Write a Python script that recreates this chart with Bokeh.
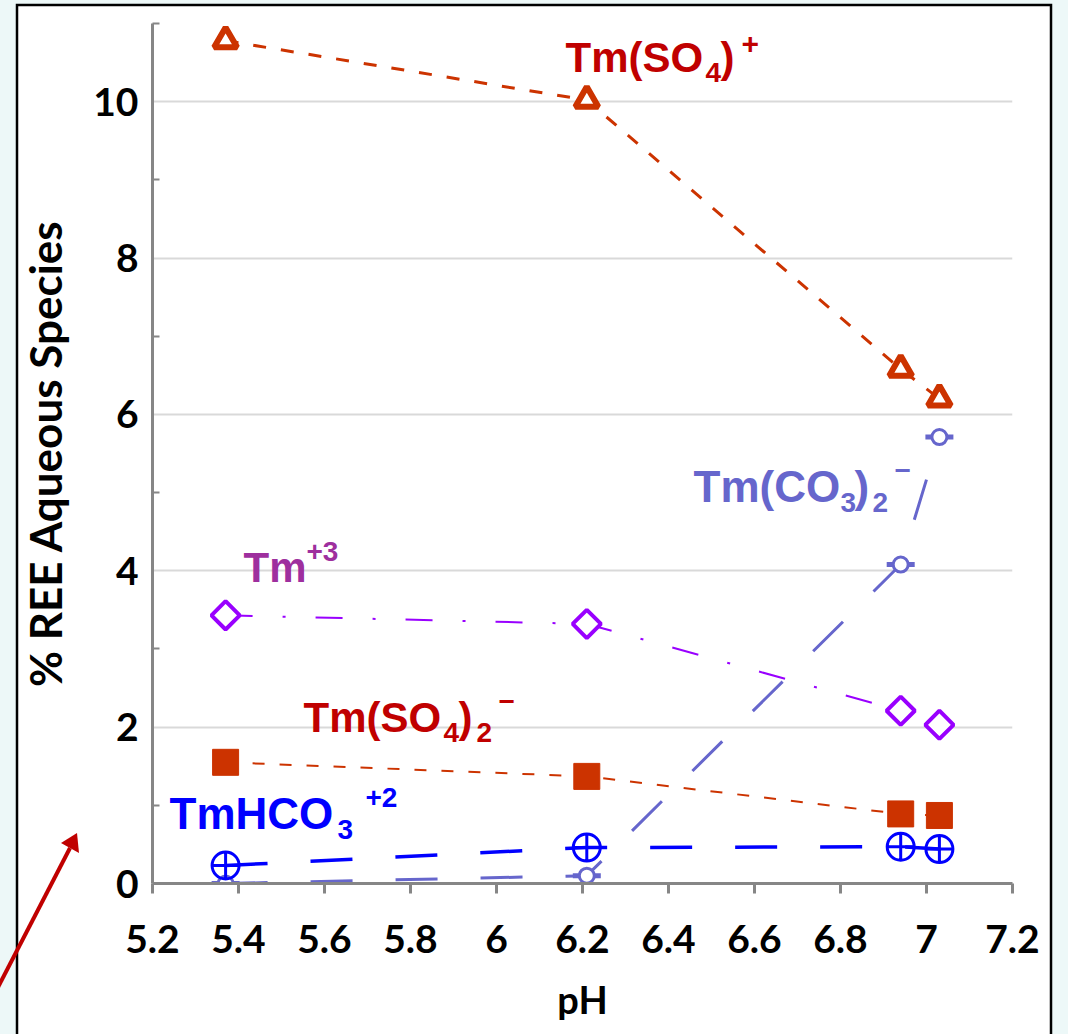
from urllib.parse import quote

from bokeh.plotting import figure
from bokeh.models import Range1d, FixedTicker, Label
from bokeh.embed import file_html
from bokeh.resources import INLINE

# ---------------- data ----------------
ph = [5.37, 6.21, 6.94, 7.03]
tm_so4 = [10.78, 10.02, 6.58, 6.20]        # Tm(SO4)+
tm3 = [3.43, 3.32, 2.21, 2.03]             # Tm+3
tm_so4_2 = [1.55, 1.37, 0.89, 0.87]        # Tm(SO4)2-
tm_hco3 = [0.23, 0.46, 0.47, 0.44]         # TmHCO3+2
tm_co3_2 = [0.0, 0.10, 4.08, 5.71]         # Tm(CO3)2-

x_ticks = [5.2, 5.4, 5.6, 5.8, 6.0, 6.2, 6.4, 6.6, 6.8, 7.0, 7.2]
x_tick_labels = ["5.2", "5.4", "5.6", "5.8", "6", "6.2", "6.4", "6.6",
                 "6.8", "7", "7.2"]
y_ticks = [0, 2, 4, 6, 8, 10]
y_minor = [1, 3, 5, 7, 9, 11]

# ---------------- colours ----------------
C_SO4 = "#cc3300"
C_RED_TXT = "#c00000"
C_TM3 = "#9900ff"
C_TM3_TXT = "#9e2f9e"
C_HCO3 = "#0000ff"
C_CO3 = "#6666cc"
AXIS = "#868686"
BG = "#edf8f8"

W, H = 1068, 1034
p = figure(width=W, height=H,
           x_range=Range1d(5.2, 7.2), y_range=Range1d(0, 11),
           output_backend="svg", toolbar_location=None,
           min_border_left=152, min_border_right=56,
           min_border_top=23, min_border_bottom=151,
           background_fill_color="white", border_fill_color=None,
           outline_line_color=None)

# axes
xa = p.xaxis[0]
xa.ticker = FixedTicker(ticks=x_ticks)
xa.major_label_overrides = {t: l for t, l in zip(x_ticks, x_tick_labels)}
xa.axis_line_color = AXIS
xa.axis_line_width = 3
xa.major_tick_line_color = AXIS
xa.major_tick_line_width = 3
xa.major_tick_out = 10
xa.major_tick_in = 0
xa.minor_tick_line_color = None
xa.major_label_text_font = "Lato"
xa.major_label_text_font_style = "bold"
xa.major_label_text_font_size = "39px"
xa.major_label_text_color = "black"
xa.major_label_standoff = 31
xa.axis_label = "pH"
xa.axis_label_text_font = "Lato"
xa.axis_label_text_font_style = "bold"
xa.axis_label_text_font_size = "38px"
xa.axis_label_text_color = "black"
xa.axis_label_standoff = 20

ya = p.yaxis[0]
ya.ticker = FixedTicker(ticks=y_ticks, minor_ticks=y_minor)
ya.axis_line_color = AXIS
ya.axis_line_width = 3
ya.major_tick_line_color = None
ya.major_tick_in = 0
ya.major_tick_out = 0
ya.minor_tick_line_color = AXIS
ya.minor_tick_line_width = 2
ya.minor_tick_in = 7
ya.minor_tick_out = 0
ya.major_label_text_font = "Lato"
ya.major_label_text_font_style = "bold"
ya.major_label_text_font_size = "39px"
ya.major_label_text_color = "black"
ya.major_label_standoff = 14
ya.axis_label = "% REE Aqueous Species"
ya.axis_label_text_font = "Lato"
ya.axis_label_text_font_style = "bold"
ya.axis_label_text_font_size = "44px"
ya.axis_label_text_color = "black"
ya.axis_label_standoff = 19

p.xgrid.grid_line_color = None
p.ygrid.grid_line_color = "#d9d9d9"
p.ygrid.grid_line_width = 2

# ---------------- series ----------------
# Tm(CO3)2-
p.line(ph, tm_co3_2, line_color=C_CO3, line_width=3, line_dash="42 43")
p.scatter(ph, tm_co3_2, marker="dash", size=28, line_color=C_CO3, line_width=5)
p.scatter(ph, tm_co3_2, marker="circle", size=15, line_color=C_CO3,
          line_width=3, fill_color="white")

# TmHCO3+2
p.line(ph, tm_hco3, line_color=C_HCO3, line_width=3.5, line_dash="42 43")
p.scatter(ph, tm_hco3, marker="circle_cross", size=27, line_color=C_HCO3,
          line_width=3, fill_color="white", fill_alpha=0.0)

# Tm(SO4)2-
p.line(ph, tm_so4_2, line_color=C_SO4, line_width=2, line_dash="12 15")
p.scatter(ph, tm_so4_2, marker="square", size=26, fill_color=C_SO4,
          line_color=C_SO4, line_width=1)

# Tm+3
p.line(ph, tm3, line_color=C_TM3, line_width=2, line_dash="27 30 3 30")
p.scatter(ph, tm3, marker="square", angle=0.785398, size=20,
          line_color=C_TM3, line_width=4, fill_color="white")

# Tm(SO4)+
p.line(ph, tm_so4, line_color=C_SO4, line_width=3, line_dash="13 15")
p.scatter(ph, tm_so4, marker="triangle", size=23, line_color=C_SO4,
          line_width=6, fill_color="white")


# ---------------- labels (page pixel positions -> data coords) ----------
def px_x(px):
    return 5.2 + (px - 152) / 430.0


def px_y(py):
    return (883 - py) / (860.0 / 11.0)


FONT = "Liberation Sans"
SHIFT = 0.39   # rendered baseline sits this many em lower than requested
pieces = [
    # Tm(SO4)+
    ("Tm(SO", 565, 73, 42, C_RED_TXT),
    ("4", 705, 83, 28, C_RED_TXT),
    (")", 720, 73, 42, C_RED_TXT),
    ("+", 741, 55, 30, C_RED_TXT),
    # Tm+3
    ("Tm", 243, 583, 42, C_TM3_TXT),
    ("+3", 306, 562, 28, C_TM3_TXT),
    # Tm(SO4)2-
    ("Tm(SO", 303, 733, 42, C_RED_TXT),
    ("4", 443, 743, 28, C_RED_TXT),
    (")", 458, 733, 42, C_RED_TXT),
    ("2", 476, 743, 28, C_RED_TXT),
    ("\u2212", 498, 712, 28, C_RED_TXT),
    # TmHCO3+2
    ("TmHCO", 169, 830, 44, C_HCO3),
    ("3", 337, 840, 28, C_HCO3),
    ("+2", 365, 808, 28, C_HCO3),
    # Tm(CO3)2-
    ("Tm(CO", 693, 503, 44, C_CO3),
    ("3", 840, 513, 28, C_CO3),
    (")", 854, 503, 44, C_CO3),
    ("2", 872, 513, 28, C_CO3),
    ("\u2212", 894, 481, 28, C_CO3),
]
for txt, x, y, sz, col in pieces:
    p.add_layout(Label(x=px_x(x), y=px_y(y - SHIFT * sz), text=txt,
                       text_font=FONT, text_font_style="bold",
                       text_font_size=f"{sz}px", text_color=col,
                       text_align="left", text_baseline="alphabetic"))

# page backdrop: light slide background, white chart box and red pointer
backdrop = (
    f"<svg xmlns='http://www.w3.org/2000/svg' width='{W}' height='{H}'>"
    f"<rect width='{W}' height='{H}' fill='{BG}'/>"
    "<rect x='17' y='5' width='1034' height='1060' fill='white' "
    "stroke='black' stroke-width='2.5'/>"
    f"<line x1='-20' y1='1022' x2='70' y2='848' stroke='{C_RED_TXT}' "
    "stroke-width='4'/>"
    f"<polygon points='77,833 61,843 79,853' fill='{C_RED_TXT}'/>"
    "</svg>"
)
css = ("<style>html {background: %s url(\"data:image/svg+xml,%s\") "
       "no-repeat 0 0;} body {background: transparent;}</style>"
       % (BG, quote(backdrop)))

html = file_html(p, INLINE, title="Tm aqueous species")
html = html.replace("<head>", "<head>" + css, 1)
open("out.html", "w").write(html)
